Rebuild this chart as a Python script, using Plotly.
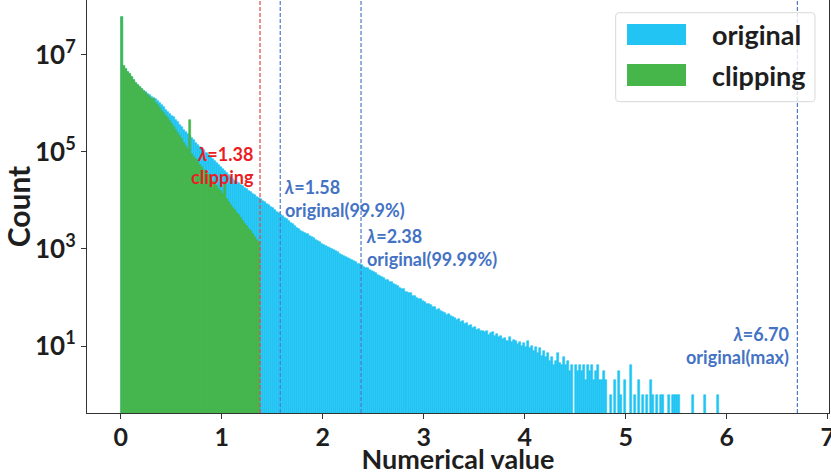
import plotly.graph_objects as go

# ---------------- data ----------------
BIN_WIDTH = 0.02  # histogram bin width on the "Numerical value" axis

# log10(count) per bin, bins start at 0 (None = empty bin)
original_log10_count = [
    7.78, 6.76, 6.70, 6.65, 6.60, 6.55, 6.49, 6.43, 6.38, 6.33,
    6.29, 6.26, 6.23, 6.20, 6.17, 6.14, 6.11, 6.08, 6.05, 6.01,
    5.96, 5.92, 5.87, 5.83, 5.79, 5.75, 5.71, 5.66, 5.61, 5.56,
    5.51, 5.46, 5.41, 5.36, 5.32, 5.28, 5.24, 5.19, 5.15, 5.11,
    5.07, 5.03, 4.98, 4.94, 4.90, 4.86, 4.81, 4.77, 4.73, 4.69,
    4.65, 4.61, 4.57, 4.53, 4.48, 4.44, 4.41, 4.38, 4.35, 4.32,
    4.29, 4.26, 4.23, 4.20, 4.17, 4.14, 4.11, 4.08, 4.05, 4.02,
    3.99, 3.96, 3.93, 3.90, 3.87, 3.84, 3.81, 3.77, 3.74, 3.71,
    3.67, 3.64, 3.61, 3.57, 3.54, 3.51, 3.47, 3.44, 3.41, 3.38,
    3.35, 3.32, 3.30, 3.27, 3.24, 3.22, 3.19, 3.16, 3.14, 3.11,
    3.09, 3.06, 3.04, 3.02, 2.99, 2.97, 2.95, 2.93, 2.90, 2.88,
    2.86, 2.84, 2.81, 2.79, 2.77, 2.75, 2.73, 2.70, 2.68, 2.66,
    2.63, 2.61, 2.60, 2.57, 2.54, 2.53, 2.50, 2.46, 2.45, 2.42,
    2.40, 2.37, 2.36, 2.32, 2.31, 2.27, 2.26, 2.23, 2.20, 2.18,
    2.17, 2.12, 2.10, 2.09, 2.04, 2.03, 2.00, 1.97, 1.96, 1.92,
    1.91, 1.87, 1.86, 1.84, 1.81, 1.80, 1.75, 1.77, 1.72, 1.70,
    1.69, 1.64, 1.66, 1.61, 1.60, 1.58, 1.53, 1.56, 1.50, 1.52,
    1.46, 1.47, 1.41, 1.43, 1.38, 1.40, 1.34, 1.36, 1.30, 1.32,
    1.28, 1.30, 1.23, 1.26, 1.28, 1.20, 1.24, 1.18, 1.21, 1.15,
    1.17, 1.11, 1.18, 1.08, 1.12, 1.10, 1.04, 1.08, 1.00, 1.06,
    0.98, 1.10, 0.95, 1.00, 0.90, 0.98, 0.85, 0.95, 0.80, 0.90,
    0.78, 0.85, 0.70, 0.78, 0.60, 0.70, 0.85, 0.65, 0.60, 0.78,
    0.60, 0.70, 0.48, 0.60, None, 0.60, 0.48, 0.60, 0.48, 0.60,
    0.30, 0.60, 0.48, 0.60, 0.30, 0.48, 0.60, 0.30, 0.30, 0.48,
    0.30, None, 0.00, None, 0.30, None, 0.48, 0.00, None, 0.30,
    None, None, 0.60, None, 0.00, None, 0.30, None, 0.00, None,
    0.00, None, 0.30, 0.00, None, 0.00, None, 0.00, 0.00, None,
    None, 0.00, None, 0.00, 0.00, 0.00, 0.00, None, None, None,
    None, None, None, 0.00, None, None, None, None, None, 0.00,
    None, None, None, None, None, 0.00,
]

clipping_log10_count = [
    7.78, 6.76, 6.70, 6.65, 6.60, 6.55, 6.49, 6.43, 6.38, 6.33,
    6.29, 6.25, 6.21, 6.17, 6.13, 6.09, 6.10, 6.01, 5.96, 5.91,
    5.85, 5.80, 5.75, 5.69, 5.63, 5.57, 5.51, 5.45, 5.39, 5.32,
    5.26, 5.19, 5.13, 5.06, 5.66, 4.96, 4.90, 4.85, 4.79, 4.74,
    4.68, 4.63, 4.57, 4.52, 4.46, 4.41, 4.35, 4.30, 4.24, 4.19,
    4.13, 4.35, 4.02, 3.96, 3.91, 3.85, 3.80, 3.74, 3.69, 3.63,
    3.58, 3.52, 3.47, 3.41, 3.36, 3.30, 3.25, 3.19, 3.14,
]

series_names = ["original", "clipping"]

x_tick_vals = [0, 1, 2, 3, 4, 5, 6, 7]
y_tick_vals = [1e1, 1e3, 1e5, 1e7]
y_tick_text = ["10<sup>1</sup>", "10<sup>3</sup>", "10<sup>5</sup>", "10<sup>7</sup>"]

threshold_values = [1.38, 1.58, 2.38, 6.70]
threshold_names = ["clipping", "original(99.9%)", "original(99.99%)", "original(max)"]

# ---------------- styles ----------------
CYAN = "#22C4F3"
GREEN = "#46B64A"
RED = "#EC1C24"
BLUE = "#4472C4"
RED_LINE = "#E0484A"
BLUE_LINE = "#4F79C6"
FONT = "Lato"
TXT = "#1E1E1E"

# label placement per threshold: (colour, line colour, xanchor, xshift, y position in log10)
label_style = [
    (RED, RED_LINE, "right", -4, 4.72),
    (BLUE, BLUE_LINE, "left", 2, 4.03),
    (BLUE, BLUE_LINE, "left", 3, 3.03),
    (BLUE, BLUE_LINE, "right", -6, 1.02),
]


def to_counts(logs):
    return [None if v is None else 10 ** v for v in logs]


def bin_centers(n):
    return [BIN_WIDTH * (i + 0.5) for i in range(n)]


fig = go.Figure()
for name, logs, col in [(series_names[0], original_log10_count, CYAN),
                        (series_names[1], clipping_log10_count, GREEN)]:
    fig.add_trace(go.Bar(
        x=bin_centers(len(logs)), y=to_counts(logs), width=BIN_WIDTH,
        name=name, marker=dict(color=col, line=dict(width=0.6, color=col)),
        showlegend=False, hoverinfo="x+y",
    ))

shapes = []
annotations = []
for val, lab, (tcol, lcol, anchor, xs, ylog) in zip(threshold_values, threshold_names, label_style):
    shapes.append(dict(type="line", xref="x", yref="paper", x0=val, x1=val, y0=0, y1=1,
                       line=dict(color=lcol, width=1.2, dash="4px,2px"), layer="above"))
    annotations.append(dict(
        x=val, y=ylog, xref="x", yref="y", xanchor=anchor, yanchor="middle",
        xshift=xs, align=anchor, showarrow=False,
        text=f"<b><i>λ</i>={val:.2f}</b><br><b>{lab}</b>",
        font=dict(family=FONT, size=18, color=tcol),
    ))

# ---- legend drawn as a framed box (paper coordinates) ----
L, R, B, T = 0.7125, 0.9811, 0.7538, 0.9692
rx, ry = 0.0055, 0.0097
box_path = (f"M {L+rx},{B} L {R-rx},{B} Q {R},{B} {R},{B+ry} L {R},{T-ry} Q {R},{T} {R-rx},{T} "
            f"L {L+rx},{T} Q {L},{T} {L},{T-ry} L {L},{B+ry} Q {L},{B} {L+rx},{B} Z")
shapes.append(dict(type="path", xref="paper", yref="paper", path=box_path,
                   fillcolor="rgba(255,255,255,0.8)", line=dict(color="#D8D8D8", width=1), layer="above"))
legend_rows = [(series_names[0], CYAN, 0.891, 0.9419, 0.9153),
               (series_names[1], GREEN, 0.7918, 0.845, 0.816)]
for name, col, y0, y1, yt in legend_rows:
    shapes.append(dict(type="rect", xref="paper", yref="paper", x0=0.7278, x1=0.8073, y0=y0, y1=y1,
                       fillcolor=col, line=dict(width=0), layer="above"))
    annotations.append(dict(x=0.8396, y=yt, xref="paper", yref="paper", xanchor="left", yanchor="middle",
                            showarrow=False, text=f"<b>{name}</b>",
                            font=dict(family=FONT, size=27, color=TXT)))

fig.update_layout(
    width=831, height=475, template="none",
    margin=dict(l=87, r=2, t=0, b=62, pad=0),
    paper_bgcolor="white", plot_bgcolor="white",
    barmode="overlay", bargap=0,
    shapes=shapes, annotations=annotations,
    showlegend=False,
    font=dict(family=FONT, color=TXT),
)
fig.update_xaxes(
    range=[-0.333, 7.013], tickvals=x_tick_vals, ticks="outside", ticklen=5, tickwidth=1.2,
    tickcolor="#333", showline=True, linecolor="#333", linewidth=1.2, mirror=False,
    showgrid=False, zeroline=False, automargin=False, ticklabeloverflow="allow",
    ticklabelstandoff=-3,
    tickfont=dict(family=FONT, size=25, color=TXT, weight="bold"),
    title=dict(text="Numerical value", font=dict(family=FONT, size=27, color=TXT, weight="bold"), standoff=5),
)
fig.update_yaxes(
    type="log", range=[-0.38, 8.13], tickvals=y_tick_vals, ticktext=y_tick_text,
    ticks="outside", ticklen=5, tickwidth=1.2, tickcolor="#333",
    showline=True, linecolor="#333", linewidth=1.2, mirror=True,
    showgrid=False, zeroline=False, automargin=False,
    tickfont=dict(family=FONT, size=26, color=TXT, weight="bold"),
    title=dict(text="Count", font=dict(family=FONT, size=30, color=TXT, weight="bold"), standoff=2),
)

fig.write_html("out.html", config={"displayModeBar": False},
               post_script="document.body.style.margin='0';")
